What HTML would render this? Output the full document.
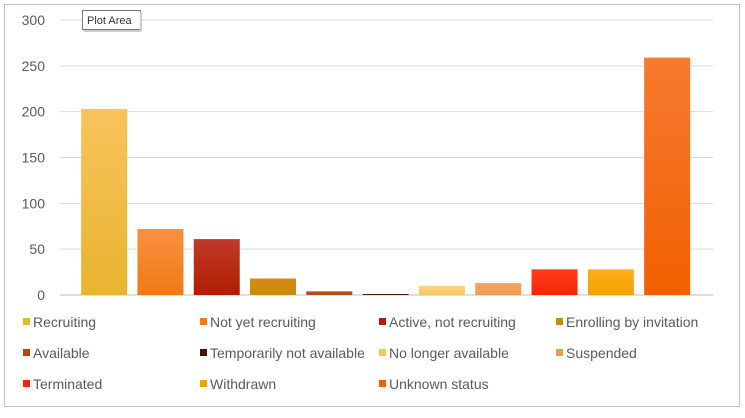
<!DOCTYPE html>
<html><head><meta charset="utf-8"><style>
body{margin:0;background:#fff;width:745px;height:413px;overflow:hidden;font-family:"Liberation Sans",sans-serif}
</style></head><body>
<svg width="745" height="413">
<defs id="defs"></defs>
<rect x="4.5" y="4.5" width="735" height="402" fill="#fff" stroke="#bfbfbf"/>
<g id="grid"></g><g id="ylab"></g><g id="bars"></g><g id="legend"></g>
<g>
<rect x="82.5" y="10.5" width="58" height="19" fill="#fff" stroke="#777"/>
<line x1="141" y1="12" x2="141" y2="31" stroke="#ccc" stroke-width="2"/>
<line x1="84" y1="31" x2="141" y2="31" stroke="#ccc" stroke-width="2"/>
<text x="87" y="24" font-size="11" fill="#333">Plot Area</text>
</g>
</svg>
<script>
const categories=["Recruiting","Not yet recruiting","Active, not recruiting","Enrolling by invitation","Available","Temporarily not available","No longer available","Suspended","Terminated","Withdrawn","Unknown status"];
const values=[203,72,61,18,4,1,10,13,28,28,259];
const ticks=[0,50,100,150,200,250,300];
const colors=[["#f9c35c","#e8b430"],["#f99040","#f07a14"],["#c0392a","#b01e00"],["#d48a14","#c98a0c"],["#b5561c","#a84c10"],["#5a1e10","#4a1008"],["#fbd686","#f7c65a"],["#f6a460","#f09a50"],["#ff3c20","#f42800"],["#fbb01c","#f5a000"],["#f77a30","#f06000"]];
const ns="http://www.w3.org/2000/svg";
const y0=295,y1=20,ymax=300,x0=76,step=56.3,bw=46;
const ys=v=>y0-(v/ymax)*(y0-y1);
const xs=i=>x0+step*i+step/2;
function mk(t,a,p){const e=document.createElementNS(ns,t);for(const k in a)e.setAttribute(k,a[k]);p.appendChild(e);return e;}
const defs=document.getElementById('defs');
colors.forEach((c,i)=>{const g=mk('linearGradient',{id:'g'+i,x1:0,y1:0,x2:0,y2:1},defs);mk('stop',{offset:0,'stop-color':c[0]},g);mk('stop',{offset:1,'stop-color':c[1]},g);});
const grid=document.getElementById('grid'),yl=document.getElementById('ylab');
ticks.forEach(t=>{const l=mk('line',{x1:60,x2:713,y1:ys(t),y2:ys(t),stroke:t===0?'#bfbfbf':'#d9d9d9'},grid);


const tx=mk('text',{x:45,y:ys(t)+5,'text-anchor':'end','font-size':14,fill:'#595959'},yl);tx.textContent=t;

});
const bars=document.getElementById('bars');
values.forEach((v,i)=>{const h=Math.max(1,y0-ys(v));const r=mk('rect',{x:xs(i)-bw/2,y:y0-h,width:bw,height:h,fill:'url(#g'+i+')'},bars);

});
const leg=document.getElementById('legend');const lx=[22,199,378,555],ly=[322,353,384];
categories.forEach((c,i)=>{const g=mk('g',{},leg);


const x=lx[i%4],y=ly[Math.floor(i/4)];
mk('rect',{x:x+1,y:y-4,width:7,height:7,fill:colors[i][1]},g);
const t=mk('text',{x:x+11,y:y+5,'font-size':14,fill:'#595959'},g);t.textContent=c;});
</script>
</body></html>
